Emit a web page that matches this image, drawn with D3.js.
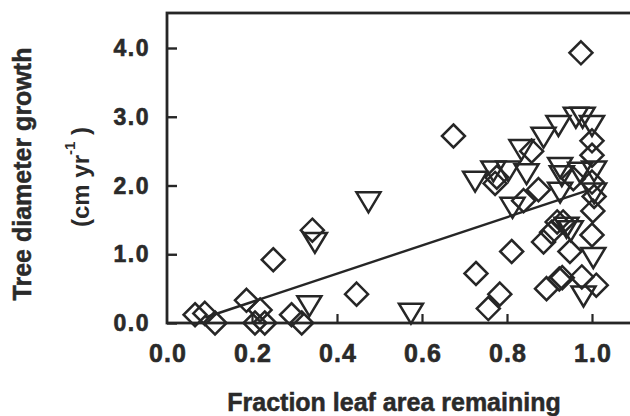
<!DOCTYPE html>
<html>
<head>
<meta charset="utf-8">
<script src="https://cdn.jsdelivr.net/npm/d3@7"></script>
<style>
  html, body { margin: 0; padding: 0; background: #fff; }
  svg { display: block; }
  text { font-family: "Liberation Sans", Arial, Helvetica, sans-serif; font-weight: bold; fill: #2a2a2a; }
</style>
</head>
<body>
<svg id="chart" width="630" height="416"></svg>
<script>
// ---- data ----
const diamondX = [0.066,0.089,0.113,0.187,0.219,0.207,0.230,0.293,0.317,0.250,0.342,0.446,0.674,0.727,0.756,0.783,0.811,0.772,0.776,0.858,0.839,0.874,0.886,0.905,0.918,0.932,0.948,0.893,0.923,0.930,0.976,1.010,1.000,1.002,1.005,1.000,1.000,1.000,0.956,0.974];
const diamondY = [0.12,0.14,0.00,0.33,0.19,0.00,0.00,0.12,0.00,0.92,1.35,0.42,2.72,0.72,0.21,0.42,1.04,2.03,2.12,2.50,1.78,1.94,1.18,1.32,1.47,1.47,1.04,0.50,0.64,0.66,0.67,0.55,1.28,1.63,1.84,2.44,2.65,2.05,2.10,3.93];
const triangleX = [0.335,0.348,0.474,0.574,0.725,0.768,0.803,0.846,0.834,0.886,0.921,0.962,0.978,1.000,0.925,0.929,0.972,1.005,1.005,0.925,0.813,0.940,0.950,1.003,0.980];
const triangleY = [0.26,1.18,1.77,0.15,2.07,2.22,2.22,2.18,2.53,2.71,2.88,3.00,3.00,2.88,2.27,2.15,2.20,2.22,1.90,1.91,1.69,1.40,1.35,0.96,0.40];
const fitX = [0.09, 0.99];
const fitY = [0.08, 1.93];
const xTicks = [0.0, 0.2, 0.4, 0.6, 0.8, 1.0];
const yTicks = [0.0, 1.0, 2.0, 3.0, 4.0];
const xTitle = "Fraction leaf area remaining";
const yTitle = "Tree diameter growth";

// ---- layout ----
const svg = d3.select("#chart");
const frameL = 167, frameR = 640, frameT = 13, frameB = 323;
const x = d3.scaleLinear().domain([0, 1]).range([167, 592]);
const y = d3.scaleLinear().domain([0, 4]).range([323, 48]);
const ink = "#262626";

// frame
svg.append("rect")
  .attr("x", frameL).attr("y", frameT)
  .attr("width", frameR - frameL).attr("height", frameB - frameT)
  .attr("fill", "none").attr("stroke", ink).attr("stroke-width", 2.8);

// axes (inward ticks)
const yAxis = d3.axisRight(y).tickValues(yTicks).tickSize(10).tickFormat("");
svg.append("g").attr("transform", `translate(${frameL},0)`).call(yAxis)
  .call(g => g.select(".domain").remove())
  .call(g => g.selectAll("line").attr("stroke", ink).attr("stroke-width", 2.4));
const xAxis = d3.axisTop(x).tickValues(xTicks.filter(v => v > 0)).tickSize(9).tickFormat("");
svg.append("g").attr("transform", `translate(0,${frameB})`).call(xAxis)
  .call(g => g.select(".domain").remove())
  .call(g => g.selectAll("line").attr("stroke", ink).attr("stroke-width", 2.2));

// tick labels
svg.append("g").selectAll("text").data(yTicks).join("text")
  .attr("x", 150).attr("y", d => y(d) + 8)
  .attr("text-anchor", "end").attr("font-size", 23).attr("letter-spacing", 1.5)
  .attr("stroke", "#2a2a2a").attr("stroke-width", 0.6)
  .text(d => d.toFixed(1));
svg.append("g").selectAll("text").data(xTicks).join("text")
  .attr("x", d => x(d) + 1).attr("y", 362)
  .attr("text-anchor", "middle").attr("font-size", 25).attr("letter-spacing", 1)
  .attr("stroke", "#2a2a2a").attr("stroke-width", 0.6)
  .text(d => d.toFixed(1));

// titles
svg.append("text")
  .attr("transform", "translate(31,174) rotate(-90)")
  .attr("text-anchor", "middle").attr("font-size", 25)
  .attr("stroke", "#2a2a2a").attr("stroke-width", 0.5)
  .text(yTitle);
const unit = svg.append("text")
  .attr("transform", "translate(89,177) rotate(-90)")
  .attr("text-anchor", "middle").attr("font-size", 24);
unit.append("tspan").text("(cm yr");
unit.append("tspan").attr("dy", -14).attr("font-size", 15).text("-1");
unit.append("tspan").attr("dy", 14).text(" )");

svg.append("text")
  .attr("x", 394).attr("y", 411)
  .attr("text-anchor", "middle").attr("font-size", 25)
  .attr("stroke", "#2a2a2a").attr("stroke-width", 0.5)
  .text(xTitle);

const marks = svg.append("g");

// regression line
marks.append("path")
  .attr("d", d3.line()(fitX.map((v, i) => [x(v), y(fitY[i])])))
  .attr("fill", "none").attr("stroke", ink).attr("stroke-width", 2.4);

// diamonds
marks.append("g").selectAll("path").data(diamondX.map((v, i) => [v, diamondY[i]])).join("path")
  .attr("transform", d => `translate(${x(d[0])},${y(d[1])})`)
  .attr("d", "M0,-11.5L11.5,0L0,11.5L-11.5,0Z")
  .attr("fill", "none").attr("stroke", ink).attr("stroke-width", 2.5).attr("stroke-linejoin", "miter");

// triangles (pointing down)
marks.append("g").selectAll("path").data(triangleX.map((v, i) => [v, triangleY[i]])).join("path")
  .attr("transform", d => `translate(${x(d[0])},${y(d[1])})`)
  .attr("d", "M-12,-9L12,-9L0,11Z")
  .attr("fill", "none").attr("stroke", ink).attr("stroke-width", 2.5).attr("stroke-linejoin", "miter");
</script>
</body>
</html>
